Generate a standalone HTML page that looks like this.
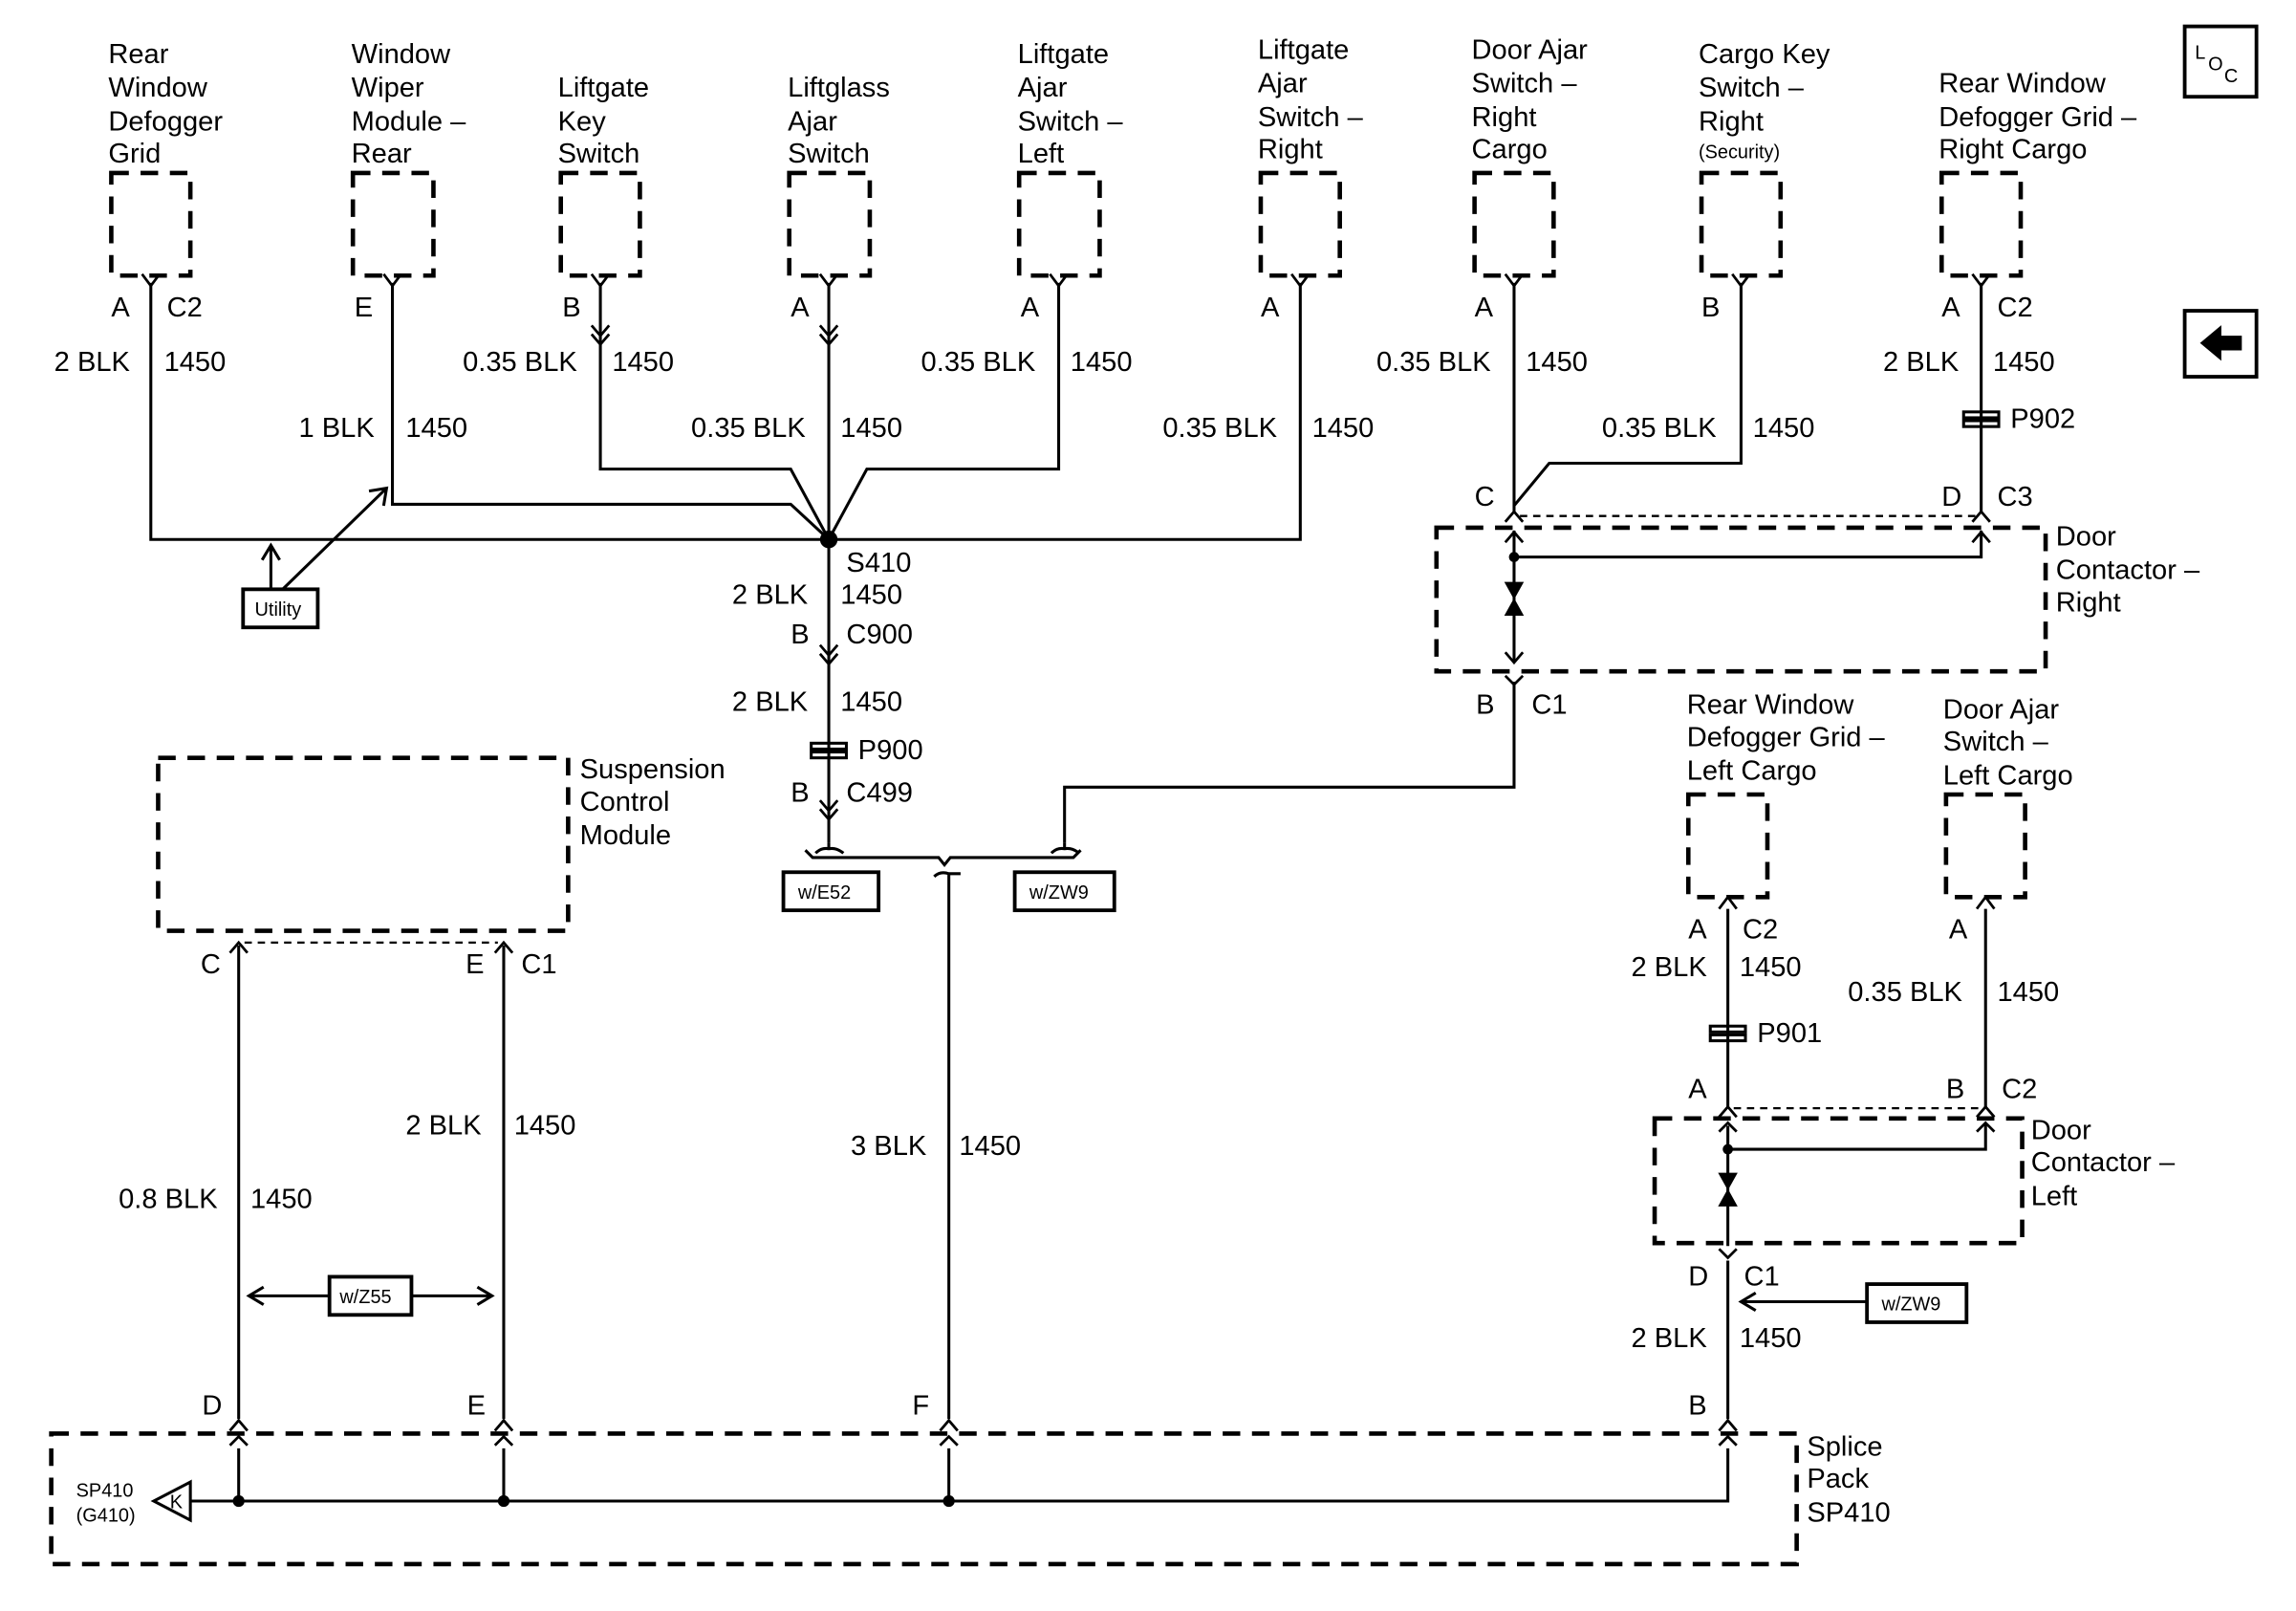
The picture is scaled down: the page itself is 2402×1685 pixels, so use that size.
<!DOCTYPE html>
<html><head><meta charset="utf-8"><style>
html,body{margin:0;padding:0;background:#fff}
svg{display:block}
text{font-family:"Liberation Sans",Arial,sans-serif;font-size:19px;fill:#000}
.s{font-size:13px}
</style></head><body>
<svg width="2402" height="1685" viewBox="0 0 1568 1099" preserveAspectRatio="none" xmlns="http://www.w3.org/2000/svg">
<g fill="none" stroke="#000" stroke-width="2">
<g stroke-width="3" stroke-dasharray="12,8">
<rect x="76" y="118" width="54" height="70"/>
<rect x="241" y="118" width="55" height="70"/>
<rect x="383" y="118" width="54" height="70"/>
<rect x="539" y="118" width="55" height="70"/>
<rect x="696" y="118" width="55" height="70"/>
<rect x="861" y="118" width="54" height="70"/>
<rect x="1007" y="118" width="54" height="70"/>
<rect x="1162" y="118" width="54" height="70"/>
<rect x="1326" y="118" width="54" height="70"/>
<rect x="981" y="360" width="416" height="98"/>
<rect x="108" y="517" width="280" height="118"/>
<rect x="1153" y="542" width="54" height="70"/>
<rect x="1329" y="542" width="54" height="70"/>
<rect x="1130" y="763" width="251" height="85"/>
<rect x="35" y="978" width="1192" height="89"/>
</g>
<g stroke-dasharray="5,4" stroke-width="1.5">
<line x1="1038" y1="352" x2="1350" y2="352"/>
<line x1="167" y1="643" x2="340" y2="643"/>
<line x1="1184" y1="756" x2="1352" y2="756"/>
</g>
<path d="M103 193V368H888V193"/>
<path d="M268 193V344H540L566 368"/>
<path d="M410 193V320H540L566 368"/>
<path d="M566 193V575"/>
<path d="M723 193V320H592L566 368"/>
<path d="M1034 193V350"/>
<path d="M1189 193V316H1058L1034 345"/>
<path d="M1353 193V350"/>
<path d="M1034 362V452M1034 380H1353V362"/>
<path d="M1034 465V537H727V575"/>
<g stroke-width="1.8">
<path d="M97 187L103 195L109 187M262 187L268 195L274 187M404 187L410 195L416 187M560 187L566 195L572 187M717 187L723 195L729 187M882 187L888 195L894 187M1028 187L1034 195L1040 187M1183 187L1189 195L1195 187M1347 187L1353 195L1359 187"/>
<path d="M404 222L410 229L416 222M560 222L566 229L572 222M404 228L410 235L416 228M560 228L566 235L572 228"/>
<path d="M1028 356L1034 349L1040 356M1347 356L1353 349L1359 356M1028 370L1034 363L1040 370M1347 370L1353 363L1359 370M1028 445L1034 452L1040 445M1028 461L1034 467L1040 461"/>
<path d="M560 440L566 447L572 440M560 446L566 453L572 446M560 546L566 553L572 546M560 552L566 559L572 552"/>
<path d="M157 650L163 643L169 650M338 650L344 643L350 650"/>
<path d="M1174 620L1180 612L1186 620M1350 620L1356 612L1362 620"/>
<path d="M1174 762L1180 755L1186 762M1350 762L1356 755L1362 762M1174 772L1180 766L1186 772M1350 772L1356 766L1362 772M1174 852L1180 858L1186 852"/>
<path d="M157 976L163 969L169 976M338 976L344 969L350 976M642 976L648 969L654 976M1174 976L1180 969L1186 976M157 986L163 980L169 986M338 986L344 980L350 986M642 986L648 980L654 986M1174 986L1180 980L1186 986"/>
</g>
<circle cx="1034" cy="380" r="2.5" fill="#000"/>
<path d="M1029 398H1039L1034 407ZM1029 419H1039L1034 410Z" fill="#000"/>
<path d="M1180 784H1356V766M1180 768V850"/>
<circle cx="1180" cy="784" r="2.5" fill="#000"/>
<path d="M1175 801H1185L1180 810ZM1175 822H1185L1180 813Z" fill="#000"/>
<g stroke-width="2"><rect x="1341" y="281" width="24" height="4"/><rect x="1341" y="287" width="24" height="4"/>
<rect x="554" y="507" width="24" height="4"/><rect x="554" y="513" width="24" height="4"/>
<rect x="1168" y="700" width="24" height="4"/><rect x="1168" y="706" width="24" height="4"/></g>
<circle cx="566" cy="368" r="5" fill="#000"/>
<path d="M566 575V579M557 582Q561 578 566 579Q571 578 576 582"/>
<path d="M727 575V579M718 582Q722 578 727 579Q732 578 737 582"/>
<path d="M550 580L555 585H641L645 590L649 585H733L738 580"/>
<path d="M638 598Q642 594 648 596H656M648 596V968"/>
<path d="M163 645V968M344 645V968"/>
<path d="M1180 620V755M1356 620V755M1180 860V968"/>
<path d="M163 988V1024M344 988V1024M648 988V1024M1180 988V1024H130"/>
<circle cx="163" cy="1024" r="3" fill="#000"/><circle cx="344" cy="1024" r="3" fill="#000"/><circle cx="648" cy="1024" r="3" fill="#000"/>
<path d="M130 1011L105 1024L130 1037Z"/>
<path d="M185 402L185 372M179 382L185 372L191 382" />
<path d="M193 402L264 333M252 335L264 333L262 345"/>
<rect x="166" y="402" width="51" height="26" stroke-width="2.5"/>
<rect x="535" y="595" width="65" height="26" stroke-width="2.5"/>
<rect x="693" y="595" width="68" height="26" stroke-width="2.5"/>
<rect x="225" y="871" width="56" height="26" stroke-width="2.5"/>
<path d="M225 884H170M180 878L170 884L180 890M281 884H336M326 878L336 884L326 890"/>
<rect x="1275" y="876" width="68" height="26" stroke-width="2.5"/>
<path d="M1275 888H1190M1199 882L1189 888L1199 894"/>
<rect x="1492" y="18" width="49" height="48" stroke-width="2.5"/>
<rect x="1492" y="212" width="49" height="45" stroke-width="2.5"/>
<path d="M1504 234L1516 224V230H1530V238H1516V244Z" fill="#000"/>
</g>
<g>
<text x="1499" y="40" class="s">L</text><text x="1508" y="48" class="s">O</text><text x="1519" y="56" class="s">C</text>
<text x="74" y="43">Rear</text><text x="74" y="66">Window</text><text x="74" y="89">Defogger</text><text x="74" y="111">Grid</text>
<text x="240" y="43">Window</text><text x="240" y="66">Wiper</text><text x="240" y="89">Module –</text><text x="240" y="111">Rear</text>
<text x="381" y="66">Liftgate</text><text x="381" y="89">Key</text><text x="381" y="111">Switch</text>
<text x="538" y="66">Liftglass</text><text x="538" y="89">Ajar</text><text x="538" y="111">Switch</text>
<text x="695" y="43">Liftgate</text><text x="695" y="66">Ajar</text><text x="695" y="89">Switch –</text><text x="695" y="111">Left</text>
<text x="859" y="40">Liftgate</text><text x="859" y="63">Ajar</text><text x="859" y="86">Switch –</text><text x="859" y="108">Right</text>
<text x="1005" y="40">Door Ajar</text><text x="1005" y="63">Switch –</text><text x="1005" y="86">Right</text><text x="1005" y="108">Cargo</text>
<text x="1160" y="43">Cargo Key</text><text x="1160" y="66">Switch –</text><text x="1160" y="89">Right</text><text x="1160" y="108" class="s">(Security)</text>
<text x="1324" y="63">Rear Window</text><text x="1324" y="86">Defogger Grid –</text><text x="1324" y="108">Right Cargo</text>
<text x="76" y="216">A</text><text x="114" y="216">C2</text>
<text x="242" y="216">E</text><text x="384" y="216">B</text><text x="540" y="216">A</text><text x="697" y="216">A</text>
<text x="861" y="216">A</text><text x="1007" y="216">A</text><text x="1162" y="216">B</text>
<text x="1326" y="216">A</text><text x="1364" y="216">C2</text>
<text x="37" y="253">2 BLK</text><text x="112" y="253">1450</text>
<text x="204" y="298">1 BLK</text><text x="277" y="298">1450</text>
<text x="316" y="253">0.35 BLK</text><text x="418" y="253">1450</text>
<text x="472" y="298">0.35 BLK</text><text x="574" y="298">1450</text>
<text x="629" y="253">0.35 BLK</text><text x="731" y="253">1450</text>
<text x="794" y="298">0.35 BLK</text><text x="896" y="298">1450</text>
<text x="940" y="253">0.35 BLK</text><text x="1042" y="253">1450</text>
<text x="1094" y="298">0.35 BLK</text><text x="1197" y="298">1450</text>
<text x="1286" y="253">2 BLK</text><text x="1361" y="253">1450</text>
<text x="1373" y="292">P902</text>
<text x="1007" y="345">C</text><text x="1326" y="345">D</text><text x="1364" y="345">C3</text>
<text x="1404" y="372">Door</text><text x="1404" y="395">Contactor –</text><text x="1404" y="417">Right</text>
<text x="1008" y="487">B</text><text x="1046" y="487">C1</text>
<text x="578" y="390">S410</text>
<text x="500" y="412">2 BLK</text><text x="574" y="412">1450</text>
<text x="540" y="439">B</text><text x="578" y="439">C900</text>
<text x="500" y="485">2 BLK</text><text x="574" y="485">1450</text>
<text x="586" y="518">P900</text>
<text x="540" y="547">B</text><text x="578" y="547">C499</text>
<text x="396" y="531">Suspension</text><text x="396" y="553">Control</text><text x="396" y="576">Module</text>
<text x="137" y="664">C</text><text x="318" y="664">E</text><text x="356" y="664">C1</text>
<text x="277" y="774">2 BLK</text><text x="351" y="774">1450</text>
<text x="81" y="824">0.8 BLK</text><text x="171" y="824">1450</text>
<text x="581" y="788">3 BLK</text><text x="655" y="788">1450</text>
<text x="1152" y="487">Rear Window</text><text x="1152" y="509">Defogger Grid –</text><text x="1152" y="532">Left Cargo</text>
<text x="1327" y="490">Door Ajar</text><text x="1327" y="512">Switch –</text><text x="1327" y="535">Left Cargo</text>
<text x="1153" y="640">A</text><text x="1190" y="640">C2</text><text x="1331" y="640">A</text>
<text x="1114" y="666">2 BLK</text><text x="1188" y="666">1450</text>
<text x="1262" y="683">0.35 BLK</text><text x="1364" y="683">1450</text>
<text x="1200" y="711">P901</text>
<text x="1153" y="749">A</text><text x="1329" y="749">B</text><text x="1367" y="749">C2</text>
<text x="1387" y="777">Door</text><text x="1387" y="799">Contactor –</text><text x="1387" y="822">Left</text>
<text x="1153" y="877">D</text><text x="1191" y="877">C1</text>
<text x="1114" y="919">2 BLK</text><text x="1188" y="919">1450</text>
<text x="138" y="965">D</text><text x="319" y="965">E</text><text x="623" y="965">F</text><text x="1153" y="965">B</text>
<text x="1234" y="993">Splice</text><text x="1234" y="1015">Pack</text><text x="1234" y="1038">SP410</text>
<text x="52" y="1021" class="s">SP410</text><text x="52" y="1038" class="s">(G410)</text>
<text x="116" y="1029" class="s">K</text>
<text x="174" y="420" class="s">Utility</text>
<text x="545" y="613" class="s">w/E52</text>
<text x="703" y="613" class="s">w/ZW9</text>
<text x="232" y="889" class="s">w/Z55</text>
<text x="1285" y="894" class="s">w/ZW9</text>
</g>
</svg>
</body></html>
